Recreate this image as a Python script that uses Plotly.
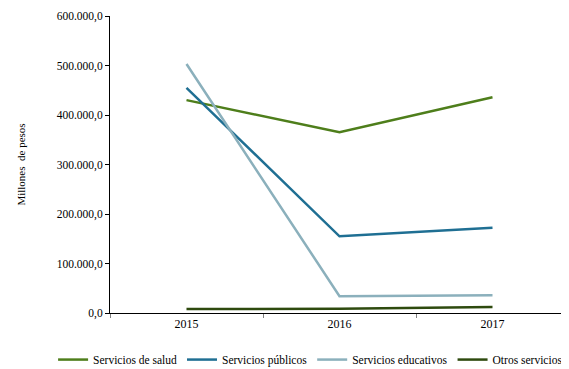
import plotly.graph_objects as go

years = ["2015", "2016", "2017"]
salud = [430000, 365000, 436000]
publicos = [455000, 155000, 172000]
educativos = [503000, 34000, 36000]
otros = [8000, 8500, 12000]

series = [
    ("Servicios de salud", salud, "#4E7E1B"),
    ("Servicios públicos", publicos, "#1F6F93"),
    ("Servicios educativos", educativos, "#8BB0BC"),
    ("Otros servicios", otros, "#2E4A0E"),
]

fig = go.Figure()
for name, vals, col in series:
    fig.add_trace(go.Scatter(x=years, y=vals, name=name, mode="lines",
                             line=dict(color=col, width=2.5)))

FAM = "Liberation Serif"
font = dict(family=FAM, size=11, color="#000000")
# page body has an 8px margin, so the figure is offset by 8px
fig.update_layout(
    width=561, height=361,
    margin=dict(l=102, r=0, t=8, b=56, autoexpand=False),
    paper_bgcolor="white", plot_bgcolor="white",
    font=font,
    separators=",.",
    showlegend=True,
    legend=dict(orientation="h", xref="paper", yref="paper",
                x=-0.124, xanchor="left", y=-0.108, yanchor="top",
                font=dict(family=FAM, size=11.5),
                itemwidth=30,
                tracegroupgap=0, bgcolor="rgba(0,0,0,0)"),
    xaxis=dict(type="category", range=[-0.5, 2.5], showline=True, linecolor="#000000",
               linewidth=1, ticks="outside", tickson="boundaries", ticklen=4,
               tickcolor="#808080", showgrid=False, tickfont=dict(family=FAM, size=12),
               automargin=False),
    yaxis=dict(range=[0, 600000], dtick=100000, tickformat=",.1f", showline=True,
               linecolor="#000000", linewidth=1, ticks="outside", ticklen=4,
               tickcolor="#000000", showgrid=False, zeroline=False, automargin=False,
               tickfont=dict(family=FAM, size=11.5),
               title=dict(text="Millones  de pesos", standoff=28,
                          font=dict(family=FAM, size=11))),
)
fig.write_html("out.html")
